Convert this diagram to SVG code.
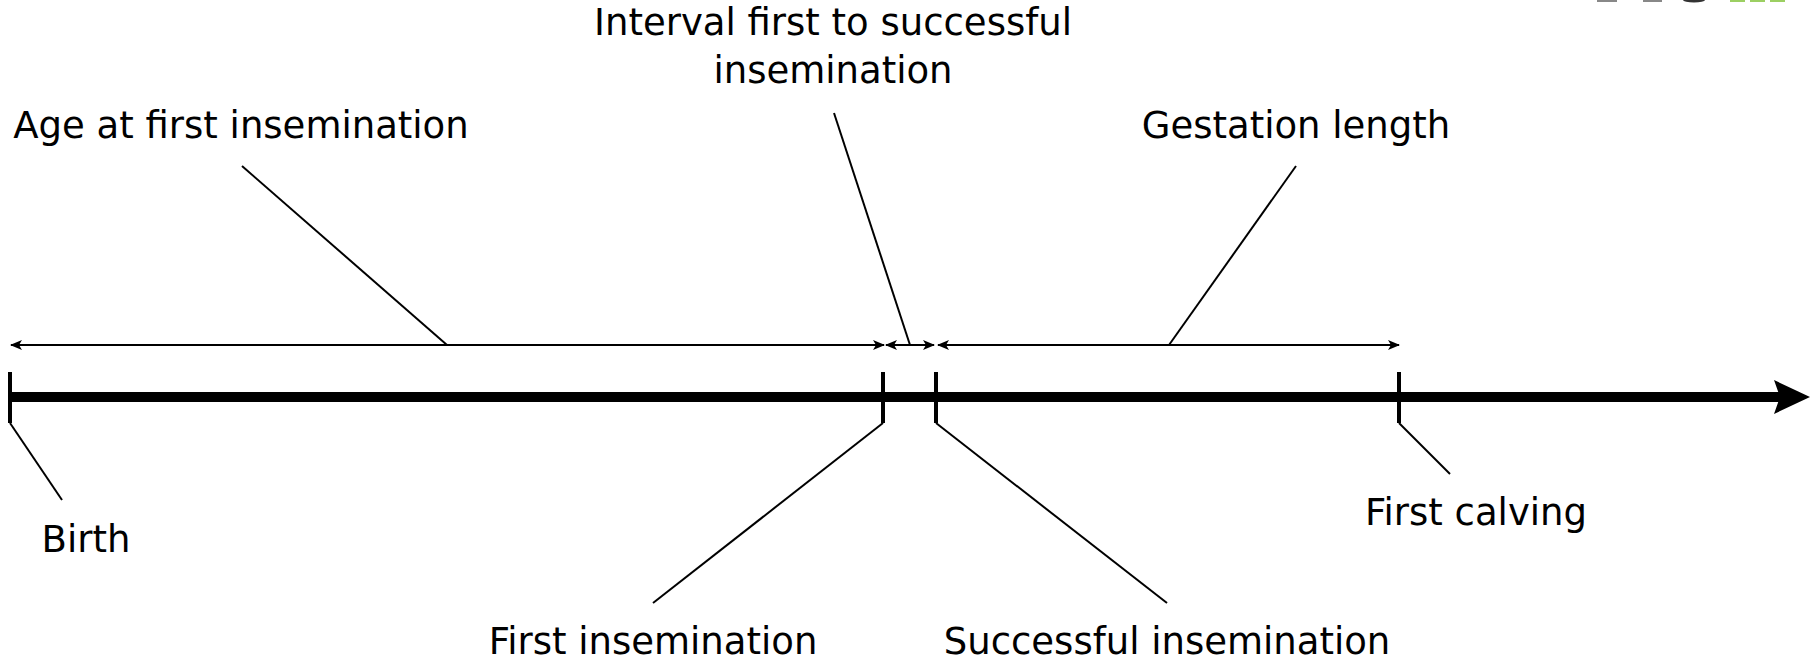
<svg xmlns="http://www.w3.org/2000/svg" width="1816" height="660" viewBox="0 0 1816 660">
<style>
  text { font-family: "DejaVu Sans", "Liberation Sans", sans-serif; font-size: 37px; fill: #000; }
  .lead { stroke: #000; stroke-width: 2; fill: none; }
  .span { stroke: #000; stroke-width: 2; fill: none; marker-start: url(#ah); marker-end: url(#ah); }
  .tick { stroke: #000; stroke-width: 4; fill: none; }
</style>
<defs>
  <marker id="ah" viewBox="0 0 12 10" refX="11" refY="5" markerWidth="12" markerHeight="10" markerUnits="userSpaceOnUse" orient="auto-start-reverse">
    <path d="M0,0 L12,5 L0,10 L3,5 Z" fill="#000"/>
  </marker>
</defs>
<rect width="1816" height="660" fill="#fff"/>
<g id="logo-fragment">
  <rect x="1597" y="0" width="20" height="2" fill="#888"/>
  <rect x="1643" y="0" width="19" height="2" fill="#888"/>
  <ellipse cx="1694" cy="0" rx="11" ry="2.5" fill="#333"/>
  <rect x="1730" y="0" width="15" height="2" fill="#9ccf62"/>
  <rect x="1750" y="0" width="15" height="2" fill="#9ccf62"/>
  <rect x="1770" y="0" width="15" height="2" fill="#9ccf62"/>
</g>
<g id="timeline">
  <line x1="10" y1="397" x2="1780" y2="397" stroke="#000" stroke-width="10"/>
  <path d="M1810,397 L1774,380 L1780,397 L1774,414 Z" fill="#000"/>
</g>
<g id="ticks">
  <line class="tick" x1="10" y1="372" x2="10" y2="423"/>
  <line class="tick" x1="883" y1="372" x2="883" y2="423"/>
  <line class="tick" x1="936" y1="372" x2="936" y2="423"/>
  <line class="tick" x1="1399" y1="372" x2="1399" y2="423"/>
</g>
<g id="connectors">
  <line class="span" x1="11" y1="345" x2="884" y2="345"/>
  <line class="span" x1="886" y1="345" x2="934" y2="345"/>
  <line class="span" x1="938" y1="345" x2="1399" y2="345"/>
  <line class="lead" x1="242" y1="166" x2="447" y2="345"/>
  <line class="lead" x1="834" y1="113" x2="910" y2="345"/>
  <line class="lead" x1="1296" y1="166" x2="1169" y2="345"/>
  <line class="lead" x1="10" y1="423" x2="62" y2="500"/>
  <line class="lead" x1="883" y1="423" x2="653" y2="603"/>
  <line class="lead" x1="936" y1="423" x2="1167" y2="603"/>
  <line class="lead" x1="1399" y1="423" x2="1450" y2="474"/>
</g>
<g id="label-age"><text x="241" y="138" text-anchor="middle">Age at first insemination</text></g>
<g id="label-interval"><text x="833" y="35" text-anchor="middle">Interval first to successful</text><text x="833" y="83" text-anchor="middle">insemination</text></g>
<g id="label-gestation"><text x="1296" y="138" text-anchor="middle">Gestation length</text></g>
<g id="label-birth"><text x="86" y="552" text-anchor="middle">Birth</text></g>
<g id="label-first-insem"><text x="653" y="654" text-anchor="middle">First insemination</text></g>
<g id="label-successful"><text x="1167" y="654" text-anchor="middle">Successful insemination</text></g>
<g id="label-calving"><text x="1476" y="525" text-anchor="middle">First calving</text></g>
</svg>
